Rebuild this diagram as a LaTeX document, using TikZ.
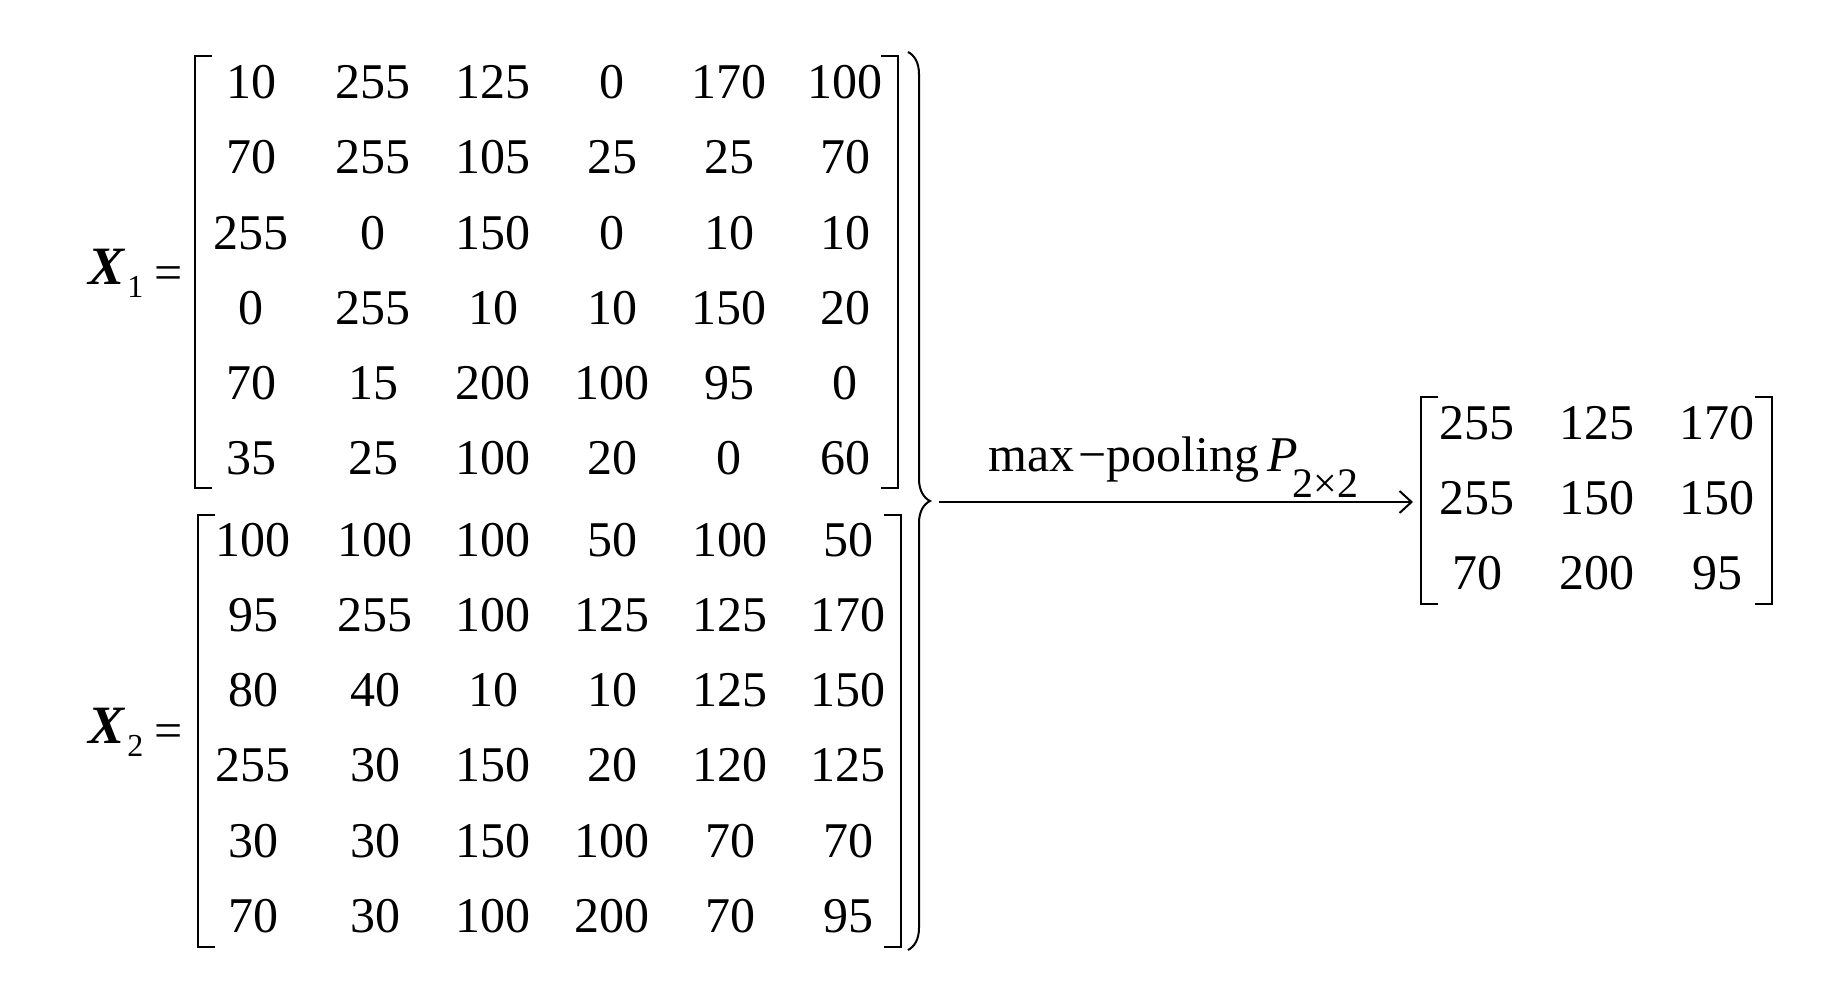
\documentclass[tikz,border=0pt]{standalone}
\usepackage{fontspec}
\setmainfont{Liberation Serif}
\usetikzlibrary{decorations.pathreplacing,arrows.meta}
\begin{document}
\begin{tikzpicture}[x=0.5pt,y=-0.5pt,
  num/.style={inner sep=0pt,font=\fontsize{25}{30}\selectfont},
  big/.style={inner sep=0pt,font=\fontsize{25}{30}\selectfont},
  var/.style={inner sep=0pt,font=\fontsize{27}{32}\selectfont},
  small/.style={inner sep=0pt,font=\fontsize{16}{19}\selectfont},
  sub/.style={inner sep=0pt,font=\fontsize{21}{25}\selectfont},
  brk/.style={line width=1pt},
  bracebar/.style={line width=1pt,decorate,decoration={brace,amplitude=11pt,aspect=0.5}},
  conn/.style={line width=1pt,-{Straight Barb[length=6pt,width=11pt,line width=1pt]}}]
\useasboundingbox (0,0) rectangle (1822,984);

% ---- X1 ----
\node[var,anchor=base west] (X1) at (88,285) {\textbf{\textit{X}}};
\node[small,anchor=base west] (X1s) at (127,298) {1};
\node[big] (X1eq) at (169,278) {=};
\foreach \row [count=\i] in {{10,255,125,0,170,100},{70,255,105,25,25,70},{255,0,150,0,10,10},{0,255,10,10,150,20},{70,15,200,100,95,0},{35,25,100,20,0,60}}{
  \foreach \v [count=\j] in \row {
    \pgfmathsetmacro{\cx}{{251,373,493,612,729,845}[\j-1]}
    \pgfmathsetmacro{\cy}{82.5+(\i-1)*75.1}
    \node[num] (a-\i-\j) at (\cx,\cy) {\v};
  }
}
\draw[brk] (212,56) -- (195,56) -- (195,488) -- (212,488);
\draw[brk] (881,56) -- (898,56) -- (898,488) -- (881,488);

% ---- X2 ----
\node[var,anchor=base west] (X2) at (88,743) {\textbf{\textit{X}}};
\node[small,anchor=base west] (X2s) at (127,756) {2};
\node[big] (X2eq) at (169,736) {=};
\foreach \row [count=\i] in {{100,100,100,50,100,50},{95,255,100,125,125,170},{80,40,10,10,125,150},{255,30,150,20,120,125},{30,30,150,100,70,70},{70,30,100,200,70,95}}{
  \foreach \v [count=\j] in \row {
    \pgfmathsetmacro{\cx}{{253,375,493,612,730,848}[\j-1]}
    \pgfmathsetmacro{\cy}{540+(\i-1)*75.2}
    \node[num] (b-\i-\j) at (\cx,\cy) {\v};
  }
}
\draw[brk] (215,515) -- (198,515) -- (198,947) -- (215,947);
\draw[brk] (884,515) -- (901,515) -- (901,947) -- (884,947);

% ---- brace ----
\draw[bracebar] (908,52) -- (908,950);
\coordinate (tip) at (939,502);

% ---- result ----
\foreach \row [count=\i] in {{255,125,170},{255,150,150},{70,200,95}}{
  \foreach \v [count=\j] in \row {
    \pgfmathsetmacro{\cx}{{1477,1597,1717}[\j-1]}
    \pgfmathsetmacro{\cy}{423+(\i-1)*75}
    \node[num] (c-\i-\j) at (\cx,\cy) {\v};
  }
}
\draw[brk] (1438,397) -- (1421,397) -- (1421,604) -- (1438,604);
\draw[brk] (1755,397) -- (1772,397) -- (1772,604) -- (1755,604);
\coordinate (rl) at (1413,502);

% ---- arrow and label ----
\draw[conn] (tip) -- (rl);
\node[big,anchor=base west] (lab) at (988,472) {max\kern2pt−pooling\hspace{4pt}\textit{P}};
\node[sub,anchor=base west] (labs) at (1292,497) {2×2};
\end{tikzpicture}
\end{document}
